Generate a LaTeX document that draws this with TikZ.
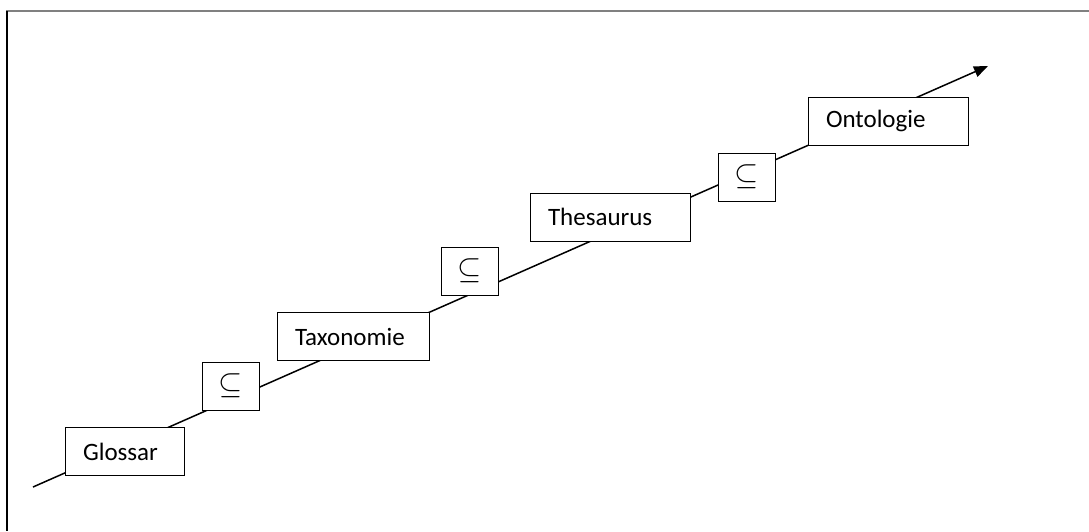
\documentclass[tikz,border=0pt]{standalone}
\usepackage{fontspec}
\setmainfont{Carlito}
\usetikzlibrary{arrows.meta,backgrounds}
\newcommand{\incl}{\raisebox{-3pt}{\scalebox{1.25}{$\subseteq$}}}
\begin{document}
\begin{tikzpicture}[x=1pt,y=-1pt,
  stage/.style={draw=black,line width=1pt,fill=white,inner xsep=18pt,inner ysep=0pt,
    minimum height=48pt,align=left,font=\fontsize{25}{28}\selectfont},
  relbox/.style={draw=black,line width=1pt,fill=white,inner sep=0pt,
    minimum width=57pt,minimum height=48pt,font=\fontsize{24}{28}\selectfont},
  flow/.style={line width=1.5pt,-{Triangle[length=14pt,width=11pt]}}]
\useasboundingbox (0,0) rectangle (1089,531);
% frame edges
\draw[gray,line width=2pt] (6,11) -- (1089,11);
\draw[black,line width=2pt] (7,11) -- (7,531);
% stages
\node[stage,text width=83pt] (glossar) at (124.5,451.5) {Glossar};
\node[relbox] (s1) at (231,386) {\incl};
\node[stage,text width=116pt] (taxo) at (353,336.5) {Taxonomie};
\node[relbox] (s2) at (469.5,271) {\incl};
\node[stage,text width=124pt] (thes) at (610,217) {Thesaurus};
\node[relbox] (s3) at (746.5,177) {\incl};
\node[stage,text width=124pt] (onto) at (888,121) {Ontologie};
% rising axis behind the boxes
\coordinate (start) at (33,487);
\coordinate (tip) at (988,66);
\begin{scope}[on background layer]
\draw[flow] (start) -- (tip);
\end{scope}
\end{tikzpicture}
\end{document}
